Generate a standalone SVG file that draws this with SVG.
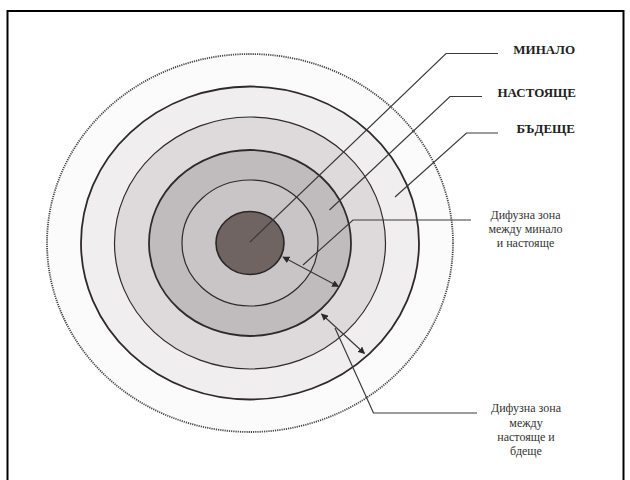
<svg xmlns="http://www.w3.org/2000/svg" width="630" height="480" viewBox="0 0 630 480">
<style>
.ring{stroke:#2e2a2b}
.thick{stroke-width:1.8}
.thin{stroke-width:1.2}
.lead{fill:none;stroke:#3a3a3a;stroke-width:1.2}
.lbl{font-family:"Liberation Serif","Times New Roman",serif;font-weight:bold;font-size:13px;fill:#222;text-anchor:end}
.note{font-family:"Liberation Serif","Times New Roman",serif;font-size:12px;fill:#333;text-anchor:middle}
</style>
<defs>
<marker id="ah" viewBox="0 0 10 10" refX="9" refY="5" markerWidth="7" markerHeight="7" markerUnits="userSpaceOnUse" orient="auto-start-reverse">
<path d="M0,0 L10,5 L0,10 z" fill="#2a2a2a"/>
</marker>
</defs>
<rect width="630" height="480" fill="#ffffff"/>
<path d="M7.5,480 V11 H623.5 V480" fill="none" stroke="#000" stroke-width="2"/>
<g id="zones">
<ellipse id="outer-dotted" cx="250" cy="243" rx="203" ry="189" fill="#fcfbfc" stroke="#444" stroke-width="1.8" stroke-dasharray="1.2 1"/>
<ellipse id="ring5" class="ring thick" cx="250" cy="243" rx="169" ry="156.5" fill="#f0eeef"/>
<ellipse id="ring4" class="ring thin" cx="250" cy="243" rx="135.5" ry="126" fill="#dedadc"/>
<ellipse id="ring3" class="ring thick" cx="250" cy="243" rx="101" ry="93" fill="#c0bcbe"/>
<ellipse id="ring2" class="ring thin" cx="250" cy="243" rx="68" ry="63" fill="#c9c5c7"/>
<ellipse id="core" cx="250" cy="243" rx="34" ry="31.5" fill="#6f6461" stroke="#2a2627" stroke-width="1.6"/>
</g>
<g id="connectors">
<polyline class="lead" points="250,242 446,53.5 498,53.5"/>
<polyline class="lead" points="329.5,210 450,96.5 482,96.5"/>
<polyline class="lead" points="395,197 466.5,133 498,133"/>
<polyline class="lead" points="303,265 353,220 471,220"/>
<polyline class="lead" points="335,328 373.5,413 477,413"/>
<line class="lead" x1="283" y1="257" x2="338.5" y2="286.5" marker-start="url(#ah)" marker-end="url(#ah)"/>
<line class="lead" x1="321.5" y1="314" x2="364.5" y2="353.5" marker-start="url(#ah)" marker-end="url(#ah)"/>
</g>
<g id="label-minalo"><text class="lbl" x="575" y="53.5">МИНАЛО</text></g>
<g id="label-nastoyashte"><text class="lbl" x="576" y="96.5">НАСТОЯЩЕ</text></g>
<g id="label-badeshte"><text class="lbl" x="575" y="133">БЪДЕЩЕ</text></g>
<g id="note-1">
<text class="note" x="525.5" y="219">Дифузна зона</text>
<text class="note" x="525.5" y="233">между минало</text>
<text class="note" x="525.5" y="247">и настояще</text>
</g>
<g id="note-2">
<text class="note" x="526" y="412">Дифузна зона</text>
<text class="note" x="526" y="427">между</text>
<text class="note" x="526" y="441">настояще и</text>
<text class="note" x="526" y="455">бдеще</text>
</g>
</svg>
